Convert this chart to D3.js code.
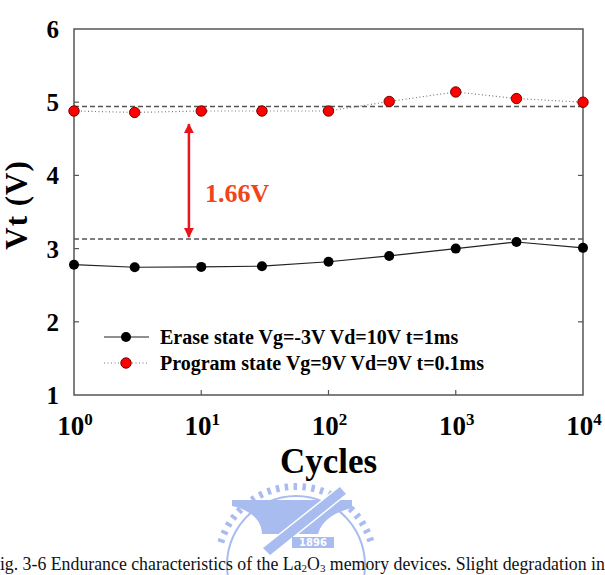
<!DOCTYPE html>
<html>
<head>
<meta charset="utf-8">
<script src="https://cdn.jsdelivr.net/npm/d3@7"></script>
<style>
  body { margin: 0; background: #fff; }
  svg { display: block; }
  .serif { font-family: "Liberation Serif", "Times New Roman", Times, serif; }
  .bold { font-weight: bold; }
</style>
</head>
<body>
<div id="chart"></div>
<script>
////
// DATA
////
const cycles = [1, 3, 10, 30, 100, 300, 1000, 3000, 10000];
const erase_vt = [2.78, 2.745, 2.75, 2.76, 2.82, 2.9, 3.0, 3.09, 3.01];
const program_vt = [4.88, 4.86, 4.88, 4.88, 4.88, 5.01, 5.14, 5.05, 5.00];
const ref_levels = [4.94, 3.13];
const y_ticks = [1, 2, 3, 4, 5, 6];
const x_ticks = [1, 10, 100, 1000, 10000];
const legend_names = ["Erase state Vg=-3V Vd=10V t=1ms", "Program state Vg=9V Vd=9V t=0.1ms"];
const window_label = "1.66V";
const window_at = { cycle: 8, top: 4.70, bottom: 3.16 };
// caption pieces: [text, subscript?]
const caption_parts = [["Fig. 3-6 Endurance characteristics of the La", false], ["2", true], ["O", false], ["3", true], [" memory devices. Slight degradation in", false]];

////
// CONTAINER
////
const width = 605, height = 575;
const plot = { left: 74, right: 583, top: 29, bottom: 395 };

const svg = d3.select("#chart").append("svg")
    .attr("width", width)
    .attr("height", height);

const x = d3.scaleLog().domain([1, 10000]).range([plot.left, plot.right]);
const y = d3.scaleLinear().domain([1, 6]).range([plot.bottom, plot.top]);

// watermark logo (faint, behind everything)
const logo = svg.append("g").attr("fill", "#9fb5ee").attr("stroke", "#9fb5ee").attr("opacity", 0.9);
const lc = { x: 296, y: 565 }, lr = 82;
d3.range(-162, -17, 6.5).forEach(a => {
    const t = a * Math.PI / 180;
    logo.append("line")
        .attr("x1", lc.x + Math.cos(t) * (lr - 7)).attr("y1", lc.y + Math.sin(t) * (lr - 7))
        .attr("x2", lc.x + Math.cos(t) * lr).attr("y2", lc.y + Math.sin(t) * lr)
        .attr("stroke-width", 3.5);
});
logo.append("path")
    .attr("d", d3.arc().innerRadius(lr - 14).outerRadius(lr - 12).startAngle(-Math.PI * 0.8).endAngle(Math.PI * 0.8)())
    .attr("transform", `translate(${lc.x},${lc.y})`)
    .attr("stroke", "none");
logo.append("path")
    .attr("d", "M232,500 L352,500 L352,508 C335,512 322,520 318,534 L262,534 C262,520 250,510 232,506 Z")
    .attr("stroke", "none");
logo.append("path")
    .attr("d", "M262,548 L340,486 L347,494 L270,556 Z")
    .attr("stroke", "#fff").attr("stroke-width", 1.5);
logo.append("rect").attr("x", 292).attr("y", 537).attr("width", 42).attr("height", 11).attr("stroke", "none");
logo.append("text").attr("x", 313).attr("y", 546).attr("text-anchor", "middle")
    .attr("fill", "#fff").attr("stroke", "none")
    .style("font", "bold 10px 'DejaVu Sans', sans-serif").text("1896");

// caption (cut at both page edges, as in the source scan)
const cap = svg.append("text")
    .attr("class", "serif")
    .attr("x", -10).attr("y", 570)
    .style("font-size", "17.8px")
    .attr("fill", "#111");
caption_parts.forEach(p => {
    const t = cap.append("tspan").text(p[0]);
    if (p[1]) t.style("font-size", "11px").attr("baseline-shift", "-2");
});

////
// AXES / FRAME
////
svg.append("rect")
    .attr("x", plot.left).attr("y", plot.top)
    .attr("width", plot.right - plot.left).attr("height", plot.bottom - plot.top)
    .attr("fill", "none").attr("stroke", "#555").attr("stroke-width", 1.5);

const ticks = svg.append("g").attr("stroke", "#555").attr("stroke-width", 1.2);
y_ticks.slice(1, -1).forEach(v => {
    ticks.append("line").attr("x1", plot.left).attr("x2", plot.left + 5).attr("y1", y(v)).attr("y2", y(v));
    ticks.append("line").attr("x1", plot.right).attr("x2", plot.right - 5).attr("y1", y(v)).attr("y2", y(v));
});
x_ticks.slice(1, -1).forEach(v => {
    ticks.append("line").attr("x1", x(v)).attr("x2", x(v)).attr("y1", plot.bottom).attr("y2", plot.bottom - 5);
});

svg.append("g").selectAll("text")
    .data(y_ticks).enter().append("text")
    .attr("class", "serif bold")
    .attr("x", plot.left - 15)
    .attr("y", d => y(d) + 9)
    .attr("text-anchor", "end")
    .style("font-size", "25px")
    .text(d => d);

const xlab = svg.append("g").selectAll("text")
    .data(x_ticks).enter().append("text")
    .attr("class", "serif bold")
    .attr("x", d => x(d) + 1)
    .attr("y", 435)
    .attr("text-anchor", "middle")
    .style("font-size", "27px");
xlab.append("tspan").text("10");
xlab.append("tspan").attr("dy", -10).style("font-size", "17px").text(d => Math.round(Math.log10(d)));

svg.append("text")
    .attr("class", "serif bold")
    .attr("x", (plot.left + plot.right) / 2).attr("y", 473)
    .attr("text-anchor", "middle")
    .style("font-size", "35px")
    .text("Cycles");

svg.append("text")
    .attr("class", "serif bold")
    .attr("transform", "translate(27, 205) rotate(-90)")
    .attr("text-anchor", "middle")
    .style("font-size", "31px")
    .style("letter-spacing", "1px")
    .text("Vt (V)");

////
// REFERENCE LINES + WINDOW ARROW
////
svg.append("g").selectAll("line")
    .data(ref_levels).enter().append("line")
    .attr("x1", plot.left).attr("x2", plot.right + 3)
    .attr("y1", d => y(d)).attr("y2", d => y(d))
    .attr("stroke", "#555").attr("stroke-width", 1.5)
    .attr("stroke-dasharray", "5,3");

const defs = svg.append("defs");
defs.append("marker").attr("id", "head")
    .attr("viewBox", "0 0 10 10").attr("refX", 9).attr("refY", 5)
    .attr("markerWidth", 4).attr("markerHeight", 4).attr("orient", "auto-start-reverse")
    .append("path").attr("d", "M0,0 L10,5 L0,10 Z").attr("fill", "#e8151b");

svg.append("line")
    .attr("x1", x(window_at.cycle)).attr("x2", x(window_at.cycle))
    .attr("y1", y(window_at.top)).attr("y2", y(window_at.bottom))
    .attr("stroke", "#e8151b").attr("stroke-width", 2.5)
    .attr("marker-start", "url(#head)").attr("marker-end", "url(#head)");

svg.append("text")
    .attr("class", "serif bold")
    .attr("x", x(10.7)).attr("y", y(3.64))
    .style("font-size", "26px")
    .attr("fill", "#f0451a")
    .text(window_label);

////
// SERIES
////
const erase_data = cycles.map((c, i) => ({ c: c, v: erase_vt[i] }));
const program_data = cycles.map((c, i) => ({ c: c, v: program_vt[i] }));
const line = d3.line().x(d => x(d.c)).y(d => y(d.v));

svg.append("path").datum(erase_data)
    .attr("d", line).attr("fill", "none")
    .attr("stroke", "#222").attr("stroke-width", 1.2);
svg.append("path").datum(program_data)
    .attr("d", line).attr("fill", "none")
    .attr("stroke", "#777").attr("stroke-width", 1.2).attr("stroke-dasharray", "1,2.5");

svg.append("g").selectAll("circle")
    .data(erase_data).enter().append("circle")
    .attr("cx", d => x(d.c)).attr("cy", d => y(d.v)).attr("r", 5)
    .attr("fill", "#000");
svg.append("g").selectAll("circle")
    .data(program_data).enter().append("circle")
    .attr("cx", d => x(d.c)).attr("cy", d => y(d.v)).attr("r", 5.2)
    .attr("fill", "#f00").attr("stroke", "#700").attr("stroke-width", 1);

////
// LEGEND
////
const legend = svg.append("g");
const leg_y = [337, 363];
legend.append("line").attr("x1", 104).attr("x2", 149).attr("y1", leg_y[0]).attr("y2", leg_y[0])
    .attr("stroke", "#222").attr("stroke-width", 1.2);
legend.append("circle").attr("cx", 126).attr("cy", leg_y[0]).attr("r", 5).attr("fill", "#000");
legend.append("line").attr("x1", 104).attr("x2", 149).attr("y1", leg_y[1]).attr("y2", leg_y[1])
    .attr("stroke", "#777").attr("stroke-width", 1.2).attr("stroke-dasharray", "1,2.5");
legend.append("circle").attr("cx", 126).attr("cy", leg_y[1]).attr("r", 5.2)
    .attr("fill", "#f00").attr("stroke", "#700");
legend.selectAll("text")
    .data(legend_names).enter().append("text")
    .attr("class", "serif bold")
    .attr("x", 160).attr("y", (d, i) => leg_y[i] + 7)
    .style("font-size", "20px")
    .text(d => d);
</script>
</body>
</html>
